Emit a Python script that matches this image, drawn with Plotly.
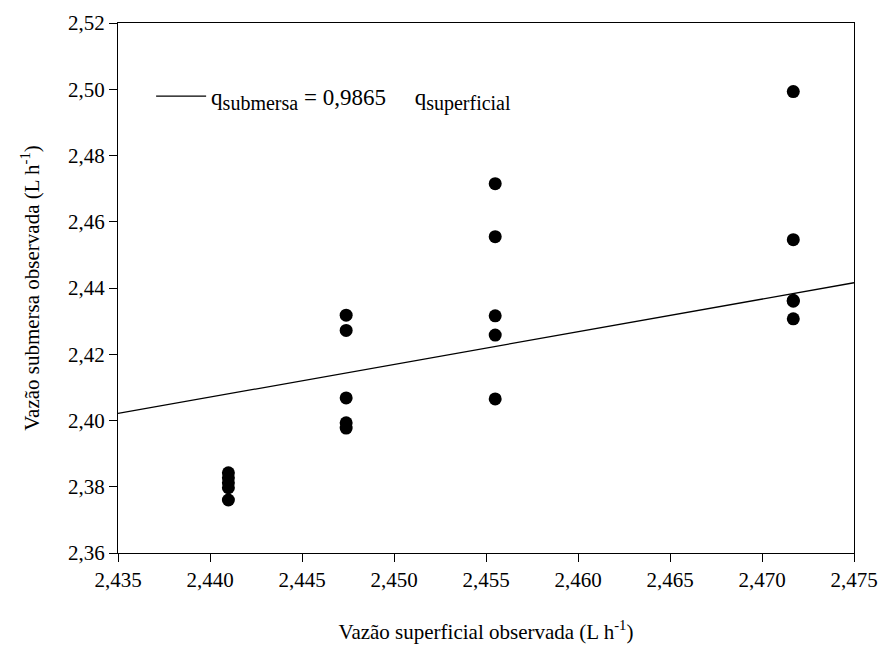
import plotly.graph_objects as go

# Observed data (L h^-1)
q_superficial = [2.4410] * 5 + [2.4474] * 5 + [2.4555] * 5 + [2.4717] * 5
q_submersa = [
    2.3842, 2.3827, 2.3812, 2.3797, 2.3760,
    2.4318, 2.4272, 2.4068, 2.3993, 2.3977,
    2.4715, 2.4555, 2.4316, 2.4258, 2.4065,
    2.4993, 2.4546, 2.4363, 2.4360, 2.4307,
]
slope = 0.9865
line_x = [2.435, 2.475]
line_y = [slope * v for v in line_x]

font_family = "Liberation Serif, Times New Roman, serif"

legend_name = ("q<sub><span style='font-size:20px'>submersa</span></sub>"
               " = 0,9865&nbsp;&nbsp;&nbsp;&nbsp;&nbsp;"
               "q<sub><span style='font-size:20px'>superficial</span></sub>")

fig = go.Figure()
fig.add_trace(go.Scatter(
    x=line_x, y=line_y, mode="lines",
    line=dict(color="black", width=1.3),
    name=legend_name,
    showlegend=True,
))
fig.add_trace(go.Scatter(
    x=q_superficial, y=q_submersa, mode="markers",
    marker=dict(color="black", size=13),
    showlegend=False,
))

axis_common = dict(
    showgrid=False, zeroline=False, showline=True, linecolor="black",
    linewidth=1.3, mirror=True, ticks="outside", ticklen=8,
    tickcolor="black", tickwidth=1.3, automargin=False,
    tickfont=dict(family=font_family, size=21, color="black"),
)

fig.update_layout(
    width=882, height=655,
    margin=dict(l=118, r=28, t=23, b=102),
    plot_bgcolor="white", paper_bgcolor="white",
    separators=",.",
    font=dict(family=font_family, color="black"),
    xaxis=dict(
        range=[2.435, 2.475], dtick=0.005, tickformat=".3f",
        title=dict(text="Vazão superficial observada (L h<sup>-1</sup>)",
                   font=dict(family=font_family, size=21), standoff=32),
        **axis_common,
    ),
    yaxis=dict(
        range=[2.36, 2.52], dtick=0.02, tickformat=".2f",
        title=dict(text="Vazão submersa observada (L h<sup>-1</sup>)",
                   font=dict(family=font_family, size=21), standoff=22),
        **axis_common,
    ),
    legend=dict(
        x=0.045, y=0.862, xanchor="left", yanchor="middle",
        bgcolor="rgba(0,0,0,0)", itemwidth=50,
        font=dict(family=font_family, size=23, color="black"),
    ),
)

fig.write_html("out.html")
